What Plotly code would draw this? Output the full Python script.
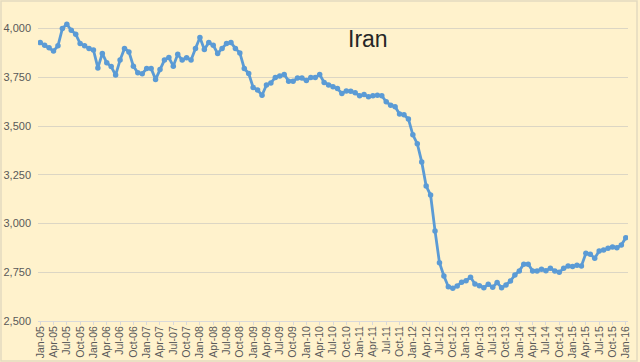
import plotly.graph_objects as go

month_names = ["Jan", "Feb", "Mar", "Apr", "May", "Jun", "Jul", "Aug", "Sep", "Oct", "Nov", "Dec"]
years = ["05", "06", "07", "08", "09", "10", "11", "12", "13", "14", "15"]
categories = [f"{m}-{y}" for y in years for m in month_names] + ["Jan-16"]

production = [
    3928, 3914, 3901, 3885, 3911, 4000, 4022, 3991, 3971, 3923, 3911, 3898,  # 2005
    3890, 3798, 3872, 3824, 3805, 3761, 3838, 3898, 3880, 3807, 3773, 3768,  # 2006
    3795, 3795, 3739, 3790, 3838, 3851, 3807, 3868, 3838, 3850, 3838, 3898,  # 2007
    3954, 3892, 3928, 3914, 3872, 3898, 3923, 3928, 3898, 3875, 3795, 3769,  # 2008
    3698, 3684, 3658, 3710, 3721, 3749, 3756, 3764, 3730, 3730, 3746, 3746,  # 2009
    3733, 3749, 3749, 3764, 3723, 3710, 3701, 3692, 3667, 3680, 3678, 3670,  # 2010
    3655, 3661, 3650, 3655, 3658, 3655, 3624, 3607, 3599, 3562, 3558, 3536,  # 2011
    3455, 3409, 3316, 3192, 3146, 2962, 2799, 2731, 2676, 2668, 2680, 2699,  # 2012
    2707, 2724, 2690, 2681, 2671, 2688, 2673, 2697, 2671, 2685, 2705, 2736,  # 2013
    2757, 2791, 2791, 2757, 2757, 2765, 2758, 2770, 2757, 2750, 2770, 2782,  # 2014
    2779, 2786, 2782, 2847, 2842, 2822, 2859, 2864, 2873, 2880, 2876, 2890,  # 2015
    2927,  # Jan-16
]

tick_labels = categories[::3]
y_ticks = [2500, 2750, 3000, 3250, 3500, 3750, 4000]
y_tick_text = ["2,500", "2,750", "3,000", "3,250", "3,500", "3,750", "4,000"]
title_text = "Iran"

bg = "#FFF2CC"
L, R, T, B = 38, 12, 9, 41
W, H = 640, 362
pw, ph = W - L - R, H - T - B

fig = go.Figure()
fig.add_trace(go.Scatter(
    x=list(range(len(categories))),
    y=production,
    mode="lines+markers",
    line=dict(color="#5B9BD5", width=2.8),
    marker=dict(color="#5B9BD5", size=5.5),
    hoverinfo="skip",
))

fig.update_layout(
    width=W, height=H,
    margin=dict(l=L, r=R, t=T, b=B, autoexpand=False),
    paper_bgcolor=bg, plot_bgcolor=bg,
    showlegend=False,
    font=dict(family="Liberation Sans, Arial, sans-serif", color="#595959", size=11),
    xaxis=dict(
        range=[-0.5, len(categories) - 0.5],
        tickmode="array",
        tickvals=list(range(0, len(categories), 3)),
        ticktext=tick_labels,
        tickangle=-90,
        tickfont=dict(size=10.5, color="#595959"),
        showgrid=False,
        showline=True, linecolor="#D9D9D9", linewidth=1,
        ticks="outside", ticklen=3, tickcolor="#D9D9D9",
        zeroline=False, automargin=False, ticklabelstandoff=-3,
    ),
    yaxis=dict(
        range=[2500, 4100],
        tickmode="array",
        tickvals=y_ticks,
        ticktext=y_tick_text,
        tickfont=dict(size=11, color="#595959"),
        showgrid=True, gridcolor="#DCD6C4", gridwidth=1,
        showline=False, zeroline=False,
        ticks="", automargin=False, ticklabelstandoff=6,
    ),
    annotations=[dict(
        text=title_text, x=(368 - L) / pw, xref="paper",
        y=(H - B - 39) / ph, yref="paper",
        xanchor="center", yanchor="middle",
        showarrow=False, font=dict(size=23, color="#262626",
                                   family="Liberation Sans, Arial, sans-serif"),
    )],
)

# light border around whole chart
fig.add_shape(type="rect", xref="paper", yref="paper",
              x0=-(L - 1) / pw, x1=1 + (R - 3) / pw, y0=-(B - 1) / ph, y1=1 + (T - 1) / ph,
              line=dict(color="#E3DAC0", width=1.5), layer="below")

fig.write_html(
    "out.html",
    config={"displayModeBar": False},
    post_script="document.body.style.margin='0';document.body.style.overflow='hidden';",
)
